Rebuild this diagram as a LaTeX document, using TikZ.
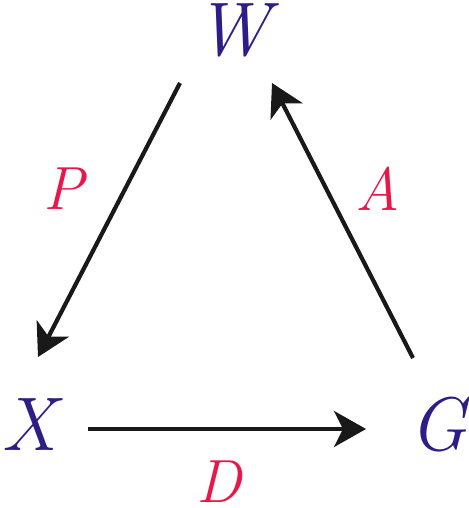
\documentclass[tikz,border=0pt]{standalone}
\usepackage{fontspec}
\usetikzlibrary{arrows.meta}
\definecolor{nodeblue}{RGB}{46,28,135}
\definecolor{labred}{RGB}{232,23,74}
\tikzset{
  big/.style={font=\fontsize{76}{80}\selectfont\itshape, text=nodeblue, inner sep=0pt},
  lab/.style={font=\fontsize{61}{64}\selectfont\itshape, text=labred, inner sep=0pt},
  conn/.style={line width=4.2pt, draw=black!90, -{Stealth[length=32pt,width=36pt,inset=9pt]}}
}
\begin{document}
\begin{tikzpicture}[x=1pt,y=1pt]
\useasboundingbox (0,0) rectangle (468,508);
\node[big] (W) at (233,478) {W};
\node[big] (X) at (29,83) {X};
\node[big] (G) at (438,83) {G};
\node[lab] (P) at (64,319) {P};
\node[lab] (A) at (378,319) {A};
\node[lab] (D) at (219,26) {D};
\coordinate (ws) at (180,425);
\coordinate (xe) at (38,151);
\coordinate (xs) at (88,79);
\coordinate (ge) at (366,79);
\coordinate (gs) at (413,150);
\coordinate (we) at (272,425);
\draw[conn] (ws) -- (xe);
\draw[conn] (xs) -- (ge);
\draw[conn] (gs) -- (we);
\end{tikzpicture}
\end{document}
